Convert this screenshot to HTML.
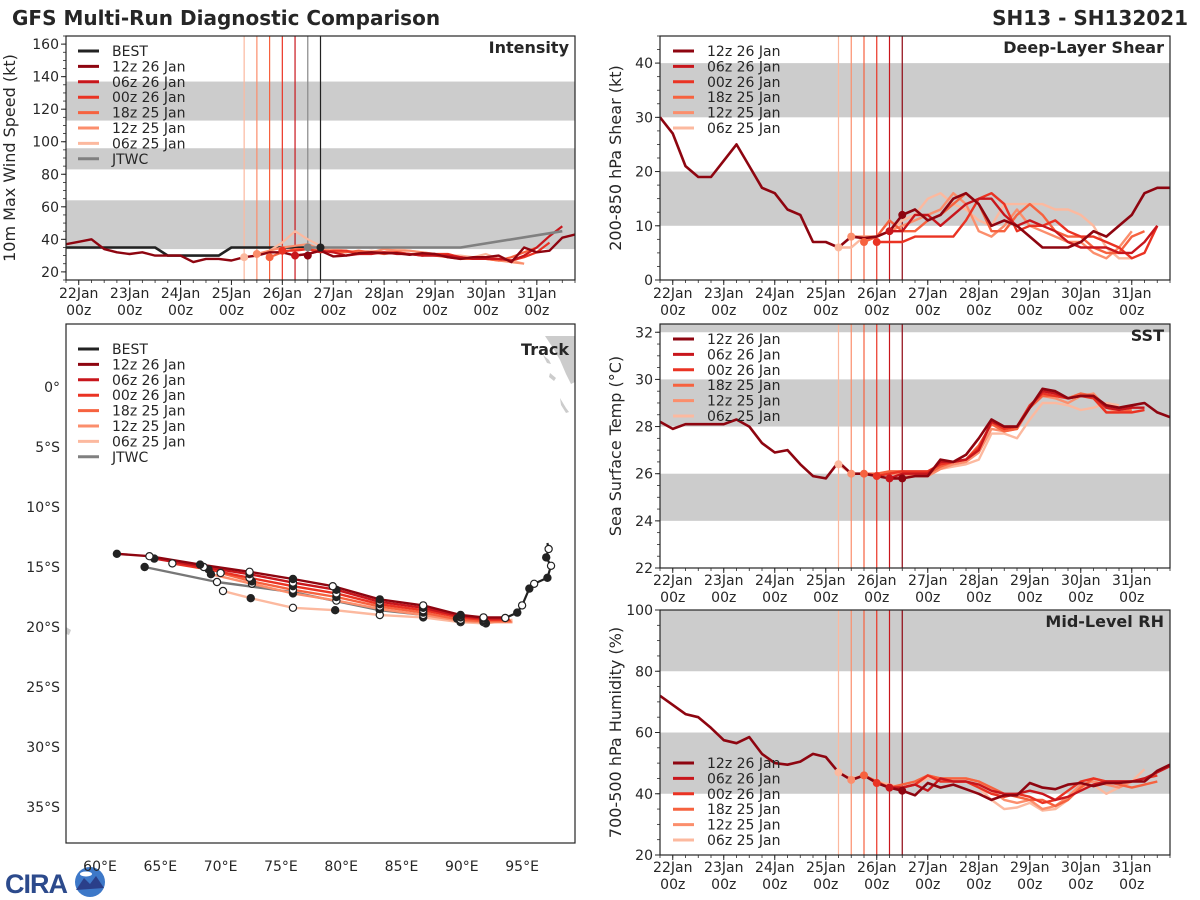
<!DOCTYPE html>
<html><head><meta charset="utf-8"><style>
html,body{margin:0;padding:0;background:#fff;}
svg{display:block;font-family:"DejaVu Sans","Liberation Sans",sans-serif;}
</style></head><body>
<svg id="fig" width="1200" height="900" viewBox="0 0 1200 900" xmlns="http://www.w3.org/2000/svg">
<defs>
<clipPath id="c1"><rect x="66" y="36" width="509" height="244"/></clipPath>
<clipPath id="c2"><rect x="660" y="36" width="510" height="244"/></clipPath>
<clipPath id="c3"><rect x="660" y="324" width="510" height="244"/></clipPath>
<clipPath id="c4"><rect x="660" y="610" width="510" height="245"/></clipPath>
<clipPath id="ct"><rect x="66" y="324" width="509" height="519"/></clipPath>
</defs>
<text x="12" y="25" font-size="20" font-weight="bold" fill="#262626">GFS Multi-Run Diagnostic Comparison</text>
<text x="1188" y="25" font-size="20" font-weight="bold" fill="#262626" text-anchor="end">SH13 - SH132021</text>
<g>
<text x="5" y="893" font-size="27" font-weight="bold" fill="#2c4a8c" font-family="Liberation Sans,sans-serif" letter-spacing="-1">CIRA</text>
<circle cx="90" cy="882" r="15" fill="#3d78c8"/>
<path d="M76,890 L84,878 L90,884 L96,876 L104,888 Z" fill="#2a3f8a"/>
<ellipse cx="86" cy="874" rx="6" ry="2.5" fill="#fff"/>
</g>
</svg>
<script>
// ---------- data ----------
const runNames = ["12z 26 Jan","06z 26 Jan","00z 26 Jan","18z 25 Jan","12z 25 Jan","06z 25 Jan"];
const runInit = [4.5,4.25,4.0,3.75,3.5,3.25];
const xTickLabels = ["22Jan","23Jan","24Jan","25Jan","26Jan","27Jan","28Jan","29Jan","30Jan","31Jan"];
const histStart = -0.25;
// intensity (kt)
const intHist = [37,38.5,40,34,32,31,32,30,30,30,26,28,28,27,29,30,32,32,30,31,33,29.5,30,31.5,32,31.5,31.5,30.5,31.5,31,29,28,29,29,30,26,35,32,33,41,43];
const intRun06z26 = [30,31,33,32,30,31,31,32,31,31,30,30,30,29,28,28,28,27,30,35,42,48];
const intRun00z26 = [33,33,34,32,33,33,31,32,32,32,31,30,31,31,29,28,28,28,27,29,32,38];
const intRun18z25 = [29,32,34,34,33,32,32,33,32,31,32,31,31,30,29,28,28,28,27,29,32,35];
const intRun12z25 = [31,33,35,36,37,34,33,33,32,32,34,33,33,32,31,29,29,28,28,27,26,25];
const intRun06z25 = [29,30,33,38,45,40,36,34,33,32,33,32,34,33,32,31,30,30,29,31,28,27,25];
const bestT = [-0.25,1.5,1.75,2.75,3.0,4.5];
const bestV = [35,35,30,30,35,35];
const jtwcT = [4.5,7.5,9.5];
const jtwcV = [35,35,45];
// shear (kt)
const shrHist = [30,27,21,19,19,22,25,21,17,16,13,12,7,7,6,8,7.7,8,9,12,13,11,12,15,16,14,10,11,10,8,6,6,6,7,9,8,10,12,16,17,17];
const shrRun06z26 = [9,9,12,12,10,12,14,15,15,12,10,11,10,9,7,6,6,6,5,5,7,10];
const shrRun00z26 = [7,7,7,8,8,8,8,11,15,16,14,9,10,10,11,9,8,8,7,6,4,5,10];
const shrRun18z25 = [7,8,11,9,9,11,12,14,16,14,9,9,12,14,12,9,8,8,6,5,5,8,9];
const shrRun12z25 = [8,8,8,9,10,11,12,13,16,14,9,8,10,13,10,9,8,7,7,5,4,6,9];
const shrRun06z25 = [6,6,8,8,9,11,12,15,16,14,13,11,10,14,14,14,14,13,13,12,10,6,4,4];
// SST (C)
const sstHist = [28.2,27.9,28.1,28.1,28.1,28.1,28.3,28.0,27.3,26.9,27.0,26.4,25.9,25.8,26.5,26.0,26.0,25.9,25.8,25.8,25.9,25.9,26.6,26.5,26.8,27.5,28.3,28.0,28.0,28.8,29.6,29.5,29.2,29.3,29.3,28.9,28.8,28.9,29.0,28.6,28.4];
const sstRun06z26 = [25.8,26.0,26.0,26.0,26.5,26.5,26.6,27.0,28.2,28.0,28.0,28.8,29.5,29.4,29.2,29.3,29.3,28.8,28.7,28.8,28.8];
const sstRun00z26 = [25.9,26.0,26.1,26.1,26.1,26.4,26.5,26.6,27.1,28.2,27.9,28.0,28.9,29.4,29.3,29.2,29.3,29.2,28.6,28.6,28.6,28.7];
const sstRun18z25 = [26.0,26.0,26.1,26.1,26.0,26.0,26.3,26.5,26.6,27.2,28.1,27.8,27.9,28.8,29.3,29.3,29.2,29.4,29.3,28.6,28.6,28.7];
const sstRun12z25 = [26.0,26.0,26.0,26.0,26.0,25.9,25.9,26.2,26.4,26.5,26.9,27.9,27.8,27.9,28.8,29.3,29.2,29.0,29.3,29.4,28.8,28.6];
const sstRun06z25 = [26.4,26.0,26.0,25.9,25.8,25.8,25.9,25.9,26.2,26.3,26.4,26.6,27.7,27.7,27.5,28.3,29.0,29.0,28.9,28.7,28.8,29.0,28.9];
// RH (%)
const rhHist = [72,69,66,65,61.5,57.5,56.5,58.5,53,50,49.5,50.5,53,52,47,44.5,46,43.5,42,41,39.5,43.5,42,43,41.5,40,38,39.5,39.5,43.5,42,41.5,43,43.5,42.5,43.5,43.5,44,44,47.5,49.5];
const rhRun06z26 = [42,42,43,41,45,44,44,43,41,40,40,41,40,38,39,41,43,44,44,44,45,47,49];
const rhRun00z26 = [43.5,42,42,43,46,44,44,44,42,40,39,40,39,37,38,41,44,45,44,44,44,45,46];
const rhRun18z25 = [46,44,42,43,44,46,45,45,45,44,42,40,39,38,38,36,38,42,45,44,43,42,43,44];
const rhRun12z25 = [44.5,46,44,42,42,43,46,45,45,45,44,41,38,37,38,35,36,39,43,44,43,42,44,45];
const rhRun06z25 = [47,45,46,44,43,42,43,45,45,44,44,42,38,35,35.5,37,34.5,35,38,42,43,40,42,44,48];
// track (lon, lat)
const bestLon = [97.1,97.2,97.0,97.4,97.1,96.0,95.6,95.0,94.6,93.6];
const bestLat = [-13.0,-13.5,-14.2,-14.9,-15.9,-16.4,-16.8,-18.2,-18.8,-19.25];
const trk12z26Lon = [93.6,91.8,89.9,86.8,83.2,79.3,76.0,72.4,68.3,64.1,61.4];
const trk12z26Lat = [-19.2,-19.2,-19.0,-18.2,-17.7,-16.6,-16.0,-15.4,-14.8,-14.1,-13.9];
const trk06z26Lon = [93.8,91.8,89.9,86.8,83.2,79.6,76.0,72.4,68.6,64.5];
const trk06z26Lat = [-19.3,-19.3,-19.1,-18.4,-17.9,-16.9,-16.3,-15.6,-15.0,-14.3];
const trk00z26Lon = [94.0,91.8,89.9,86.8,83.2,79.6,76.0,72.4,69.0,66.0];
const trk00z26Lat = [-19.4,-19.4,-19.2,-18.6,-18.1,-17.2,-16.6,-15.9,-15.2,-14.7];
const trk18z25Lon = [94.1,91.8,89.9,86.8,83.2,79.6,76.0,72.6,70.0];
const trk18z25Lat = [-19.5,-19.5,-19.4,-18.8,-18.3,-17.5,-16.9,-16.2,-15.5];
const trk12z25Lon = [94.2,91.8,89.9,86.8,83.2,79.6,76.0,72.6,69.2];
const trk12z25Lat = [-19.6,-19.6,-19.5,-19.0,-18.5,-17.8,-17.2,-16.4,-15.6];
const trk06z25Lon = [94.2,92.0,89.9,86.8,83.2,79.5,76.0,72.5,70.2];
const trk06z25Lat = [-19.4,-19.7,-19.6,-19.2,-19.0,-18.6,-18.4,-17.6,-17.0];
const jtwcLon = [93.6,89.6,83.2,76.0,69.7,63.7];
const jtwcLat = [-19.25,-19.3,-18.6,-17.1,-16.25,-15.0];
const latTicks = [0,-5,-10,-15,-20,-25,-30,-35];
const latTickLabels = ["0°","5°S","10°S","15°S","20°S","25°S","30°S","35°S"];
const lonTicks = [60,65,70,75,80,85,90,95];
const lonTickLabels = ["60°E","65°E","70°E","75°E","80°E","85°E","90°E","95°E"];

// ---------- drawing ----------
const colors = ["#8e0510","#c8161c","#ea3323","#f6623f","#fb8e6c","#fcb99f"];
const NS = "http://www.w3.org/2000/svg";
const svg = document.getElementById("fig");
function mk(tag, attrs, parent){
  const e = document.createElementNS(NS, tag);
  for (const k in attrs) e.setAttribute(k, attrs[k]);
  (parent||svg).appendChild(e);
  return e;
}
const XMIN=-0.25, XMAX=9.75;
function panel(name, clip, x0,x1,y0,y1,ymin,ymax){
  const g = mk("g",{});
  
  
  const d = mk("g",{"clip-path":"url(#"+clip+")"},g);
  return {g,d,x0,x1,y0,y1,
    sx:t=>x0+(t-XMIN)/(XMAX-XMIN)*(x1-x0),
    sy:v=>y1-(v-ymin)/(ymax-ymin)*(y1-y0), ymin, ymax};
}
function bands(p, list){
  list.forEach(b=>{
    const lo=Math.max(b[0],p.ymin), hi=Math.min(b[1],p.ymax);
    const r = mk("rect",{x:p.x0,y:p.sy(hi),width:p.x1-p.x0,height:p.sy(lo)-p.sy(hi),fill:"#cccccc"},p.d);
    
    
  });
}
function frame(p, yticks, ylabel, title, xlabY){
  const f = mk("rect",{x:p.x0,y:p.y0,width:p.x1-p.x0,height:p.y1-p.y0,fill:"none",stroke:"#262626","stroke-width":1.2},p.g);
  
  
  yticks.forEach(v=>{
    const y=p.sy(v);
    mk("line",{x1:p.x0-5,x2:p.x0,y1:y,y2:y,stroke:"#262626"},p.g);
    const t = mk("text",{x:p.x0-7,y:y+5,"font-size":14,"text-anchor":"end",fill:"#262626"},p.g);
    t.textContent = v;
    
    
  });
  const step=(yticks[1]-yticks[0])/4;
  for(let v=Math.ceil(p.ymin/step)*step; v<=p.ymax; v+=step){
    const y=p.sy(v); mk("line",{x1:p.x0-3,x2:p.x0,y1:y,y2:y,stroke:"#262626","stroke-width":0.8},p.g);
  }
  for(let d=0; d<10; d++){
    const x=p.sx(d);
    mk("line",{x1:x,x2:x,y1:p.y1,y2:p.y1+5,stroke:"#262626"},p.g);
    const t1 = mk("text",{x:x,y:xlabY,"font-size":14,"text-anchor":"middle",fill:"#262626"},p.g);
    t1.textContent = xTickLabels[d];
    
    
    const t2 = mk("text",{x:x,y:xlabY+17,"font-size":14,"text-anchor":"middle",fill:"#262626"},p.g);
    t2.textContent = "00z";
    
    
  }
  for(let d=XMIN; d<=XMAX; d+=0.25){
    const x=p.sx(d); mk("line",{x1:x,x2:x,y1:p.y1,y2:p.y1+3,stroke:"#262626","stroke-width":0.8},p.g);
  }
  const cy=(p.y0+p.y1)/2, lx=p.x0===66?15:621;
  const yl = mk("text",{x:lx,y:cy,"font-size":16,"text-anchor":"middle",fill:"#262626",transform:`rotate(-90 ${lx} ${cy})`},p.g);
  yl.textContent = ylabel;
  
  
  const tt = mk("text",{x:p.x1-6,y:p.y0+17,"font-size":16,"font-weight":"bold","text-anchor":"end",fill:"#262626"},p.g);
  tt.textContent = title;
  
  
}
function vlines(p, inits, cols){
  inits.forEach((t,i)=>{
    const x=p.sx(t);
    const l = mk("line",{x1:x,x2:x,y1:p.y0,y2:p.y1,stroke:cols[i],"stroke-width":1.2},p.d);
    
    
  });
}
function series(p, t0, vals, col, w, name){
  const pts = vals.map((v,i)=>p.sx(t0+i*0.25).toFixed(1)+","+p.sy(v).toFixed(1)).join(" ");
  const pl = mk("polyline",{points:pts,fill:"none",stroke:col,"stroke-width":w||2.4,"stroke-linejoin":"round"},p.d);
  
  
}
function seriesXY(p, ts, vals, col, w, name){
  const pts = vals.map((v,i)=>p.sx(ts[i]).toFixed(1)+","+p.sy(v).toFixed(1)).join(" ");
  const pl = mk("polyline",{points:pts,fill:"none",stroke:col,"stroke-width":w,"stroke-linejoin":"round"},p.d);
  
  
}
function dot(p,t,v,col){
  const c = mk("circle",{cx:p.sx(t),cy:p.sy(v),r:4,fill:col},p.d);
  
  
}
function legend(x,y,names,cols){
  const g = mk("g",{});
  
  
  names.forEach((n,i)=>{
    const yy=y+i*15.4;
    mk("line",{x1:x,x2:x+21,y1:yy,y2:yy,stroke:cols[i],"stroke-width":3},g);
    const t = mk("text",{x:x+34,y:yy+5,"font-size":14,fill:"#262626"},g);
    t.textContent = n;
    
    
  });
}
function runPanel(p, hist, runs){
  for(let i=runs.length-1;i>=0;i--) series(p, runInit[i+1], runs[i], colors[i+1], 2.4, 'forecast-'+runNames[i+1].replace(/ /g,'-'));
  series(p, histStart, hist, colors[0], 2.6, 'forecast-12z-26-Jan');
  for(let i=runs.length-1;i>=0;i--) dot(p, runInit[i+1], runs[i][0], colors[i+1]);
  dot(p, runInit[0], hist[Math.round((runInit[0]-histStart)/0.25)], colors[0]);
}

// Intensity
const p1 = panel("intensity","c1",66,575,36,280,15,165);
bands(p1,[[34,64],[83,96],[113,137]]);
vlines(p1,[3.25,3.5,3.75,4.0,4.25,4.5,4.75],[colors[5],colors[4],colors[3],colors[2],colors[1],"#888","#222"]);
const intRuns=[intRun06z26,intRun00z26,intRun18z25,intRun12z25,intRun06z25];
seriesXY(p1,bestT,bestV,"#222",2.6,"best-intensity");
for(let i=4;i>=0;i--) series(p1, runInit[i+1], intRuns[i], colors[i+1], 2.2, 'intensity-'+runNames[i+1].replace(/ /g,'-'));
series(p1, histStart, intHist, colors[0], 2.4, 'intensity-12z-26-Jan');
seriesXY(p1,jtwcT,jtwcV,"#808080",2.6,"jtwc-intensity");
for(let i=4;i>=0;i--) dot(p1, runInit[i+1], intRuns[i][0], colors[i+1]);
dot(p1,4.5,30,colors[0]); dot(p1,4.5,35,"#808080"); dot(p1,4.75,35,"#222");
frame(p1,[20,40,60,80,100,120,140,160],"10m Max Wind Speed (kt)","Intensity",298);
legend(78,51,["BEST"].concat(runNames,["JTWC"]),["#222"].concat(colors,["#808080"]));

// Shear
const p2 = panel("shear","c2",660,1170,36,280,0,45);
bands(p2,[[10,20],[30,40]]);
vlines(p2,runInit,colors);
runPanel(p2, shrHist,[shrRun06z26,shrRun00z26,shrRun18z25,shrRun12z25,shrRun06z25]);
frame(p2,[0,10,20,30,40],"200-850 hPa Shear (kt)","Deep-Layer Shear",298);
legend(673,51,runNames,colors);

// SST
const p3 = panel("sst","c3",660,1170,324,568,22,32.35);
bands(p3,[[24,26],[28,30],[32,33]]);
vlines(p3,runInit,colors);
runPanel(p3, sstHist,[sstRun06z26,sstRun00z26,sstRun18z25,sstRun12z25,sstRun06z25]);
frame(p3,[22,24,26,28,30,32],"Sea Surface Temp (°C)","SST",585);
legend(673,339,runNames,colors);

// RH
const p4 = panel("rh","c4",660,1170,610,855,20,100);
bands(p4,[[40,60],[80,100]]);
vlines(p4,runInit,colors);
runPanel(p4, rhHist,[rhRun06z26,rhRun00z26,rhRun18z25,rhRun12z25,rhRun06z25]);
frame(p4,[20,40,60,80,100],"700-500 hPa Humidity (%)","Mid-Level RH",872);
legend(673,763,runNames,colors);

// Track
const tk = {x0:66,x1:575,y0:324,y1:843,
  sx:lon=>100+(lon-60)*12.06, sy:lat=>387-lat*12};
const tgo = mk("g",{});


const tg = mk("g",{"clip-path":"url(#ct)"},tgo);
const land = mk("path",{d:"M545,336 L575,336 L575,382 L571,384 L566,374 L560,360 L553,348 Z M543,355 L549,360 L551,364 L547,363 Z M550,373 L556,378 L554,381 L549,377 Z M560,398 L566,408 L569,412 L566,413 L561,405 Z M66,627 L71,630 L69,635 L66,634 Z",fill:"#cccccc"},tg);


const trkLon=[trk06z25Lon,trk12z25Lon,trk18z25Lon,trk00z26Lon,trk06z26Lon,trk12z26Lon];
const trkLat=[trk06z25Lat,trk12z25Lat,trk18z25Lat,trk00z26Lat,trk06z26Lat,trk12z26Lat];
function trackLine(lons,lats,col,w,name){
  const pts=lons.map((l,i)=>tk.sx(l).toFixed(1)+","+tk.sy(lats[i]).toFixed(1)).join(" ");
  const pl=mk("polyline",{points:pts,fill:"none",stroke:col,"stroke-width":w,"stroke-linejoin":"round"},tg);
  
  
}
function trackDots(lons,lats,start){
  lons.forEach((l,i)=>{
    if(i===0) return;
    const c=mk("circle",{cx:tk.sx(l),cy:tk.sy(lats[i]),r:3.6,fill:(i+start)%2?"#222":"#fff",stroke:"#222","stroke-width":1.2},tg);
    
    
  });
}
trackLine(jtwcLon,jtwcLat,"#777",2.4,"jtwc-track");
for(let i=0;i<6;i++) trackLine(trkLon[i],trkLat[i],colors[5-i],2.4,'track-'+runNames[5-i].replace(/ /g,'-'));
trackLine(bestLon,bestLat,"#222",2.2,"best-track");
trackDots(jtwcLon,jtwcLat,0);
for(let i=0;i<6;i++) trackDots(trkLon[i],trkLat[i],i);
trackDots(bestLon,bestLat,1);
const tf=mk("rect",{x:tk.x0,y:tk.y0,width:tk.x1-tk.x0,height:tk.y1-tk.y0,fill:"none",stroke:"#262626","stroke-width":1.2},tgo);


latTicks.forEach((v,i)=>{
  const t=mk("text",{x:60,y:tk.sy(v)+5,"font-size":14,"text-anchor":"end",fill:"#262626"},tgo);
  t.textContent=latTickLabels[i];
  
  
});
lonTicks.forEach((v,i)=>{
  const t=mk("text",{x:tk.sx(v),y:871,"font-size":14,"text-anchor":"middle",fill:"#262626"},tgo);
  t.textContent=lonTickLabels[i];
  
  
});
const tt=mk("text",{x:569,y:355,"font-size":16,"font-weight":"bold","text-anchor":"end",fill:"#262626"},tgo);
tt.textContent="Track";


legend(78,349,["BEST"].concat(runNames,["JTWC"]),["#222"].concat(colors,["#808080"]));
</script>
</body></html>
